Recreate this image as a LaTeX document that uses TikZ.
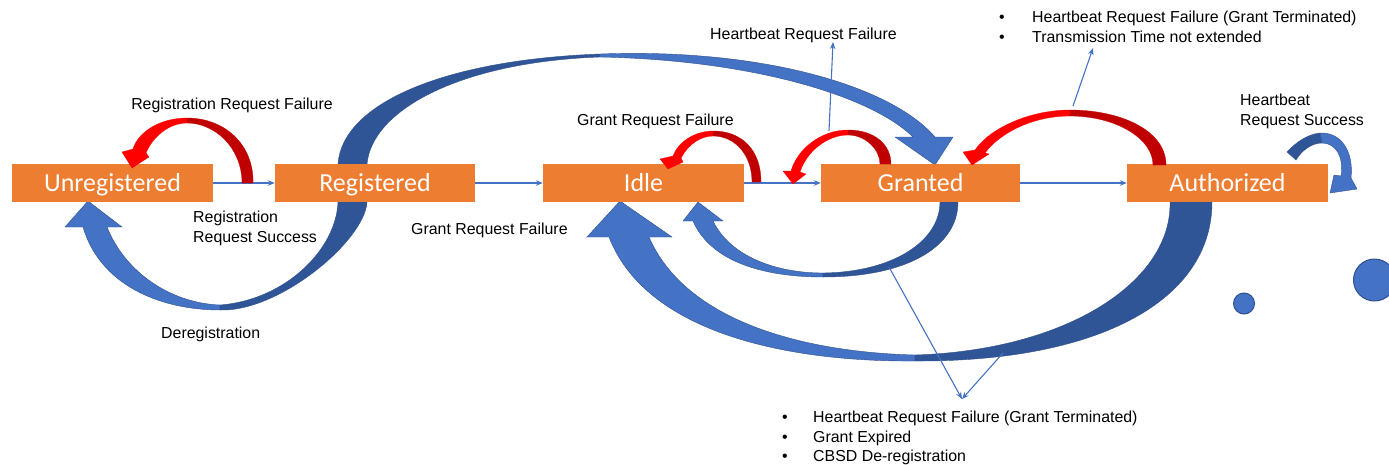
\documentclass[tikz,border=0pt]{standalone}
\usepackage{fontspec}
\setmainfont{Liberation Sans}
\newfontfamily\boxfont{Carlito}
\usetikzlibrary{arrows.meta}
\definecolor{orng}{HTML}{ED7D31}
\definecolor{lblue}{HTML}{4472C4}
\definecolor{dblue}{HTML}{2F5597}
\definecolor{eblue}{HTML}{2F528F}
\definecolor{dred}{HTML}{C00000}
\definecolor{bred}{HTML}{FF0000}
\begin{document}
\begin{tikzpicture}[x=1pt,y=-1pt,
  statebox/.style={fill=orng, minimum height=38pt, inner sep=0pt, text=white,
    font=\boxfont\fontsize{26}{30}\selectfont, text height=16.5pt, text depth=0pt},
  lbl/.style={inner sep=0pt, font=\fontsize{15.9}{19.5}\selectfont, align=left},
  conn/.style={draw=lblue, line width=1.1pt, -{Stealth[length=7pt,width=5.5pt]}},
  bandlight/.style={fill=lblue, draw=eblue, line width=0.4pt},
  banddark/.style={fill=dblue, draw=eblue, line width=0.4pt},
  redhead/.style={fill=bred, draw=bred, line width=0.3pt},
  redtail/.style={fill=dred, draw=dred, line width=0.3pt},
  dot/.style={fill=lblue, draw=eblue, line width=1pt},
]
\useasboundingbox (0,0) rectangle (1389,464);

% ---------- big curved blue arrows (behind the boxes) ----------
% Deregistration: Registered -> Unregistered
\path[bandlight] (220,310) .. controls (160,310) and (100,285) .. (83,227)
  -- (65,227) -- (88,201) -- (122,227) -- (107,227)
  .. controls (125,272) and (170,303) .. (220,305) -- cycle;
\path[banddark] (220,310) .. controls (280,312) and (365,240) .. (367,202)
  -- (338,202) .. controls (336,250) and (285,300) .. (220,305) -- cycle;
% Registered -> Granted (over the top)
\path[banddark] (338,164) .. controls (342,105) and (440,60) .. (600,54)
  -- (600,57) .. controls (460,62) and (372,110) .. (367,164) -- cycle;
\path[bandlight] (600,54) .. controls (760,48) and (890,85) .. (935,137)
  -- (953,137) -- (935,165) -- (895,137) -- (913,137)
  .. controls (870,95) and (750,60) .. (600,57) -- cycle;
% Granted -> Idle (small, below)
\path[bandlight] (823,277) .. controls (760,277) and (710,260) .. (693,221)
  -- (683,221) -- (698,202) -- (723,221) -- (713,221)
  .. controls (730,256) and (775,273) .. (823,273) -- cycle;
\path[banddark] (823,277) .. controls (910,277) and (958,245) .. (958,202)
  -- (940,202) .. controls (940,240) and (895,272) .. (823,273) -- cycle;
% Authorized -> Idle (big, below)
\path[bandlight] (915,361) .. controls (780,362) and (645,330) .. (609,237)
  -- (587,237) -- (620,201) -- (672,237) -- (649,237)
  .. controls (685,320) and (800,352) .. (915,355) -- cycle;
\path[banddark] (915,361) .. controls (1100,362) and (1212,300) .. (1212,202)
  -- (1170,202) .. controls (1172,280) and (1070,350) .. (915,355) -- cycle;
% Authorized self loop
\path[banddark] (1287,152) .. controls (1297,141) and (1309,134) .. (1320,133)
  -- (1322,143) .. controls (1312,143) and (1302,150) .. (1296,160) -- cycle;
\path[bandlight] (1320,133) .. controls (1340,132) and (1354,150) .. (1351,178)
  -- (1357,189) -- (1330,193) -- (1334,175) -- (1341,176)
  .. controls (1344,157) and (1336,143) .. (1322,143) -- cycle;

% ---------- circles ----------
\path[dot] (1244,303.5) circle[radius=10.5pt];
\path[dot] (1374.5,280) circle[radius=21pt];

% ---------- states ----------
\node[statebox, minimum width=201pt] (unreg) at (112.5,183) {Unregistered};
\node[statebox, minimum width=200pt] (reg)   at (375,183)   {Registered};
\node[statebox, minimum width=201pt] (idle)  at (643.5,183) {Idle};
\node[statebox, minimum width=199pt] (grant) at (920.5,183) {Granted};
\node[statebox, minimum width=201pt] (auth)  at (1227.5,183) {Authorized};

% ---------- thin transitions ----------
\draw[conn] (unreg) -- (reg);
\draw[conn] (reg) -- (idle);
\draw[conn] (idle) -- (grant);
\draw[conn] (grant) -- (auth);

% ---------- red self loops ----------
\path[redhead] (187,118) .. controls (160,118) and (138,132) .. (133,149)
  -- (122,152) -- (132,168) -- (149,157) -- (146,153)
  .. controls (152,138) and (168,123) .. (187,123) -- cycle;
\path[redtail] (187,118) .. controls (225,118) and (254,145) .. (253,183)
  -- (242,183) .. controls (242,148) and (215,123) .. (187,123) -- cycle;

\path[redhead] (713,131) .. controls (695,131) and (678,142) .. (673,156)
  -- (660,159) -- (668,169) -- (683,162) -- (681,158)
  .. controls (688,145) and (700,136) .. (713,136) -- cycle;
\path[redtail] (713,131) .. controls (742,131) and (761,150) .. (761,182)
  -- (752,182) .. controls (752,155) and (735,136) .. (713,136) -- cycle;

\path[redhead] (848,130) .. controls (820,130) and (797,150) .. (791,171)
  -- (783,171) -- (793,184) -- (806,174) -- (800,172)
  .. controls (806,153) and (826,135) .. (848,135) -- cycle;
\path[redtail] (848,130) .. controls (875,130) and (891,145) .. (891,164)
  -- (880,164) .. controls (880,150) and (866,135) .. (848,135) -- cycle;

\path[redhead] (1070,110) .. controls (1030,110) and (990,128) .. (975,150)
  -- (963,152) -- (972,165) -- (989,154) -- (985,153)
  .. controls (998,135) and (1030,116) .. (1070,116) -- cycle;
\path[redtail] (1070,110) .. controls (1120,110) and (1166,130) .. (1166,165)
  -- (1153,165) .. controls (1153,138) and (1115,116) .. (1070,116) -- cycle;

% ---------- labels ----------
\node[lbl, anchor=base] (rrf) at (232,109) {Registration Request Failure};
\node[lbl, anchor=north west] (rrs) at (193,211) {Registration\\Request Success};
\node[lbl, anchor=base west] (dereg) at (161,338) {Deregistration};
\node[lbl, anchor=base west] (grfa) at (411,234) {Grant Request Failure};
\node[lbl, anchor=base west] (grfb) at (577,125) {Grant Request Failure};
\node[lbl, anchor=base west] (hrf) at (710,39) {Heartbeat Request Failure};
\node[lbl, anchor=north west] (hrs) at (1240,94) {Heartbeat\\Request Success};
\node[lbl, anchor=north west] (toplist) at (999,11)
  {\makebox[33pt][l]{•}Heartbeat Request Failure (Grant Terminated)\\
   \makebox[33pt][l]{•}Transmission Time not extended};
\node[lbl, anchor=north west] (botlist) at (782,411)
  {\makebox[31pt][l]{•}Heartbeat Request Failure (Grant Terminated)\\
   \makebox[31pt][l]{•}Grant Expired\\
   \makebox[31pt][l]{•}CBSD De-registration};

% ---------- label pointers ----------
\coordinate (hrfstart) at (829,131);
\coordinate (hrftip) at (833,42);
\coordinate (trstart) at (1073,106);
\coordinate (trtip) at (1093,48);
\coordinate (bstarta) at (889,267);
\coordinate (bstartb) at (1003,353);
\coordinate (btip) at (962,399);
\draw[conn] (hrfstart) -- (hrftip);
\draw[conn] (trstart) -- (trtip);
\draw[conn] (bstarta) -- (btip);
\draw[conn] (bstartb) -- (btip);
\end{tikzpicture}
\end{document}
